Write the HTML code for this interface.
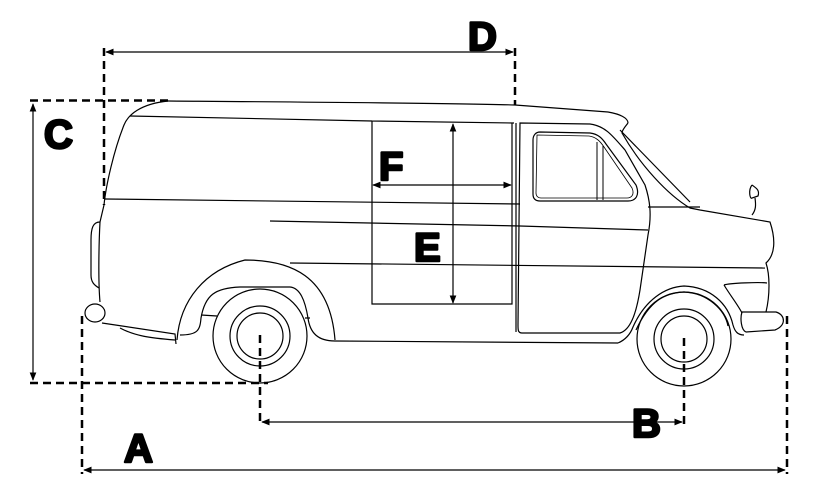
<!DOCTYPE html>
<html><head><meta charset="utf-8"><style>
html,body{margin:0;padding:0;background:#fff;}
svg{display:block;}
text{font-family:"Liberation Sans",Arial,sans-serif;font-weight:900;fill:#000;stroke:#000;stroke-width:2.5;stroke-linejoin:round;}
</style></head><body>
<svg width="814" height="494" viewBox="0 0 814 494" xmlns="http://www.w3.org/2000/svg">
<defs>
<marker id="ar" viewBox="0 0 10 10" refX="9" refY="5" markerWidth="7" markerHeight="7" orient="auto-start-reverse"><path d="M0,1 L10,5 L0,9 z" fill="#000"/></marker>
</defs>
<g fill="none" stroke="#000" stroke-width="1.2">
<path d="M168,101 C300,102 450,103 515,105 L608,112 C620,114 628,118 628,123"/>
<path d="M168,101 C140,104 128,115 124,125 C114,150 106,185 104,205 L100,222 C99,240 98,280 100,302"/>
<path d="M100,222 C93,222 91,228 91,240 L91,275 C91,282 94,285 99,288"/>
<ellipse cx="95" cy="313" rx="10" ry="9"/>
<path d="M102,323 L175,334 L176,344"/>
<path d="M120,328 C135,336 150,338 175,340"/>
<path d="M177,340 C180,300 205,270 245,260 C290,260 330,275 335,340"/>
<path d="M180,335 C198,335 200,330 201,318 C205,295 215,288 240,287 L290,287 C300,288 305,300 308,318 C310,333 318,341 335,341"/>
<path d="M201,315 L217,316 M305,318 L310,318"/>
<path d="M335,341 L618,343"/>
<circle cx="260" cy="336" r="47"/><circle cx="260" cy="336" r="30"/><circle cx="260" cy="336" r="23"/>
<circle cx="684" cy="339" r="47"/><circle cx="684" cy="339" r="30"/><circle cx="684" cy="339" r="23"/>
<path d="M618,343 C625,340 630,335 633,327 C645,300 665,287 684,286 C710,287 728,303 733,325 C735,332 738,335 744,335"/>
<path d="M636,330 C650,300 665,293 684,292 C708,293 725,310 728,326"/>
<path d="M628,123 C625,127 622,130 622,133 C640,165 668,195 690,208 L700,210 L770,222 C776,240 775,255 766,263 C770,275 770,295 766,312"/>
<path d="M620,130 L690,202"/>
<path d="M648,207 L700,207"/>
<path d="M724,285 C730,283 760,282 767,283"/>
<path d="M724,285 C730,295 738,305 742,313"/>
<path d="M742,312 L776,312 C786,315 786,326 775,330 L746,332 C741,330 740,318 742,312 Z"/>
<path d="M752,185 C748,190 750,200 752,198 L758,196 C760,190 756,188 752,185 M755,198 C756,205 756,210 752,215"/>
<path d="M130,116 L372,121 M372,121 L514,123"/>
<path d="M105,199 L520,204"/>
<path d="M270,221 L520,226 L648,230"/>
<path d="M290,263 L765,268"/>
<path d="M372,121 L372,304 L512,304 L512,123"/>
<path d="M516,123 L516,332"/>
<path d="M520,123 L590,124 C605,126 612,135 625,150 L645,185 C650,200 652,215 648,235 L640,290 C636,315 630,330 620,333 L522,333 C518,333 518,330 518,325 Z"/>
<path d="M540,132 L590,133 C598,134 602,138 606,144 L636,185 C640,195 636,201 628,201 L540,201 C535,201 533,198 533,194 L533,140 C533,135 536,132 540,132 Z"/>
<path d="M537,135 L589,136 C596,137 600,141 604,147 L632,188 C635,195 631,198 627,198 L541,198 C538,198 536,196 536,193 Z" stroke-width="0.8"/>
<path d="M597,142 L597,200 M603,146 L603,200" stroke-width="1"/>
</g>
<g fill="none" stroke="#000" stroke-width="2.5" stroke-dasharray="8,5">
<path d="M30,100.5 L173,100.5"/>
<path d="M30,383 L268,383"/>
<path d="M104,48 L104,205"/>
<path d="M515,48 L515,105"/>
<path d="M82,316 L82,474"/>
<path d="M787,316 L787,474"/>
<path d="M260,335 L260,426"/>
<path d="M684,338 L684,426"/>
</g>
<g fill="none" stroke="#000" stroke-width="1.2">
<path d="M33,104 L33,380" marker-start="url(#ar)" marker-end="url(#ar)"/>
<path d="M106,52 L513,52" marker-start="url(#ar)" marker-end="url(#ar)"/>
<path d="M84,470 L785,470" marker-start="url(#ar)" marker-end="url(#ar)"/>
<path d="M262,422 L682,422" marker-start="url(#ar)" marker-end="url(#ar)"/>
<path d="M453,124 L453,303" marker-start="url(#ar)" marker-end="url(#ar)"/>
<path d="M373,185 L511,185" marker-start="url(#ar)" marker-end="url(#ar)"/>
</g>
<text x="44" y="148" font-size="40">C</text>
<text x="468" y="50" font-size="40">D</text>
<text x="379" y="180" font-size="40">F</text>
<text x="414" y="261" font-size="40">E</text>
<text x="124" y="462" font-size="40">A</text>
<text x="632" y="437" font-size="40">B</text>
</svg>
</body></html>
